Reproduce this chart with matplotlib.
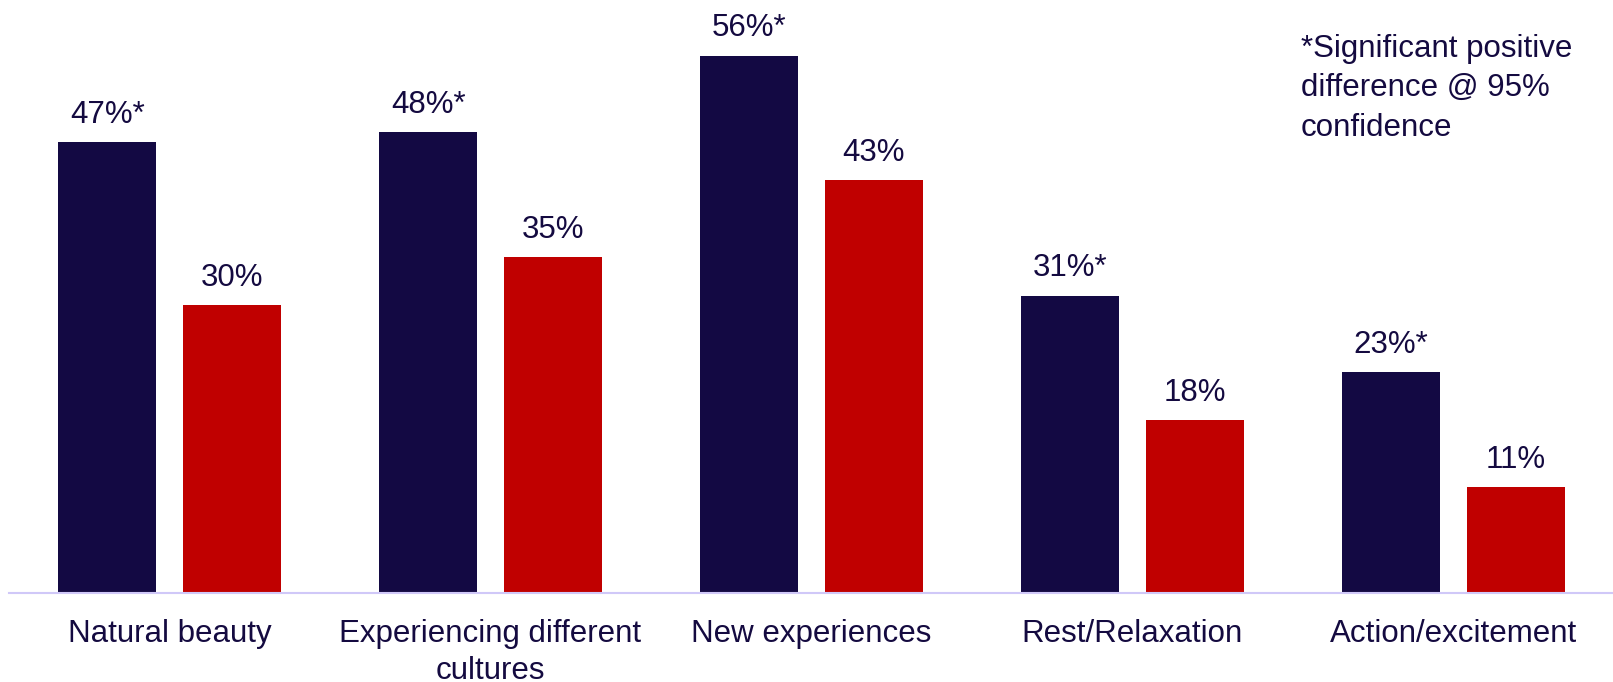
import matplotlib.pyplot as plt
import numpy as np

plt.rcParams['font.family'] = ['Liberation Sans', 'DejaVu Sans']

categories = ["Natural beauty", "Experiencing different\ncultures", "New experiences",
              "Rest/Relaxation", "Action/excitement"]
navy_vals = [47, 48, 56, 31, 23]
red_vals = [30, 35, 43, 18, 11]
navy_labels = ["47%*", "48%*", "56%*", "31%*", "23%*"]
red_labels = ["30%", "35%", "43%", "18%", "11%"]
note = "*Significant positive\ndifference @ 95%\nconfidence"

navy = "#130943"
red = "#c00000"
txt = "#140a40"

fig = plt.figure(figsize=(16.13, 6.82), dpi=100)
ax = fig.add_axes([9 / 1613, 89 / 682, 1605 / 1613, 593 / 682])

x = np.arange(len(categories))
w = 0.305
off = 0.194
b1 = ax.bar(x - off, navy_vals, w, color=navy)
b2 = ax.bar(x + off, red_vals, w, color=red)

ax.bar_label(b1, labels=navy_labels, padding=9, fontsize=22.5, color=txt)
ax.bar_label(b2, labels=red_labels, padding=9, fontsize=22.5, color=txt)

ax.set_xlim(-0.5, 4.5)
ax.set_ylim(0, 61.8)
ax.set_xticks(x)
ax.set_xticklabels(categories, fontsize=22.5, color=txt, linespacing=1.28)
ax.tick_params(axis='x', length=0, pad=19)
ax.set_yticks([])
for s in ["top", "right", "left"]:
    ax.spines[s].set_visible(False)
ax.spines["bottom"].set_color("#d0c8f8")
ax.spines["bottom"].set_linewidth(1.5)

fig.text(1301 / 1613, 1 - 34 / 682, note, fontsize=22.5, color=txt, va='top', ha='left',
         linespacing=1.41)

fig.savefig("out.png", dpi=100)
